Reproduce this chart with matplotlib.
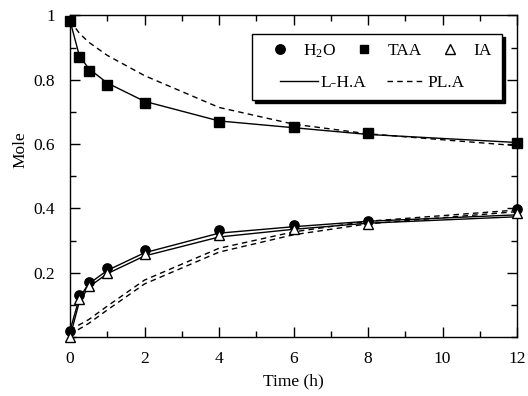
import matplotlib
matplotlib.use("Agg")
import matplotlib.pyplot as plt
from matplotlib.ticker import MultipleLocator, FixedLocator, FixedFormatter
from matplotlib.lines import Line2D
from matplotlib.patches import Rectangle
from matplotlib.transforms import offset_copy

plt.rcParams['font.family'] = ['Liberation Serif', 'DejaVu Serif']
plt.rcParams['mathtext.fontset'] = 'custom'
plt.rcParams['mathtext.rm'] = 'Liberation Serif'
plt.rcParams['mathtext.it'] = 'Liberation Serif:italic'

# Experimental data
t_exp = [0, 0.25, 0.5, 1, 2, 4, 6, 8, 12]
h2o_exp = [0.02, 0.13, 0.172, 0.216, 0.272, 0.332, 0.347, 0.362, 0.397]
taa_exp = [0.984, 0.87, 0.826, 0.783, 0.727, 0.668, 0.652, 0.636, 0.602]
ia_exp = [0.0, 0.118, 0.16, 0.2, 0.258, 0.318, 0.337, 0.35, 0.385]

# Model curves
t_mod = [0, 0.25, 0.5, 1, 2, 4, 6, 8, 12]
taa_lha = [0.984, 0.875, 0.835, 0.79, 0.733, 0.672, 0.651, 0.630, 0.605]
h2o_lha = [0.02, 0.122, 0.165, 0.207, 0.262, 0.323, 0.343, 0.360, 0.380]
ia_lha = [0.0, 0.11, 0.155, 0.197, 0.252, 0.311, 0.335, 0.354, 0.374]
taa_pla = [0.984, 0.945, 0.917, 0.876, 0.813, 0.714, 0.662, 0.632, 0.595]
h2o_pla = [0.02, 0.038, 0.054, 0.096, 0.177, 0.276, 0.327, 0.360, 0.395]
ia_pla = [0.005, 0.025, 0.042, 0.084, 0.165, 0.264, 0.318, 0.352, 0.390]

x_ticks = [0, 2, 4, 6, 8, 10, 12]
y_ticks = [0.2, 0.4, 0.6, 0.8, 1.0]
y_ticklabels = ['0.2', '0.4', '0.6', '0.8', '1']

fig = plt.figure(figsize=(5.28, 3.96), dpi=100)
ax = fig.add_axes([0.1326, 0.149, 0.8466, 0.8119])

lw = 1.0
dash = (4, 3)
ax.plot(t_mod, taa_lha, '-', color='black', lw=lw, zorder=2)
ax.plot(t_mod, h2o_lha, '-', color='black', lw=lw, zorder=2)
ax.plot(t_mod, ia_lha, '-', color='black', lw=lw, zorder=2)
ax.plot(t_mod, taa_pla, '--', color='black', lw=lw, dashes=dash, zorder=2)
ax.plot(t_mod, h2o_pla, '--', color='black', lw=lw, dashes=dash, zorder=2)
ax.plot(t_mod, ia_pla, '--', color='black', lw=lw, dashes=dash, zorder=2)

ax.plot(t_exp, h2o_exp, 'o', color='black', ms=6.7, ls='none', zorder=3, clip_on=False)
ax.plot(t_exp, taa_exp, 's', color='black', ms=6.7, ls='none', zorder=3, clip_on=False)
ax.plot(t_exp, ia_exp, '^', mfc='white', mec='black', mew=1.0, ms=6.5, ls='none',
        zorder=4, clip_on=False)

ax.set_xlim(0, 12)
ax.set_ylim(0, 1)
ax.xaxis.set_major_locator(FixedLocator(x_ticks))
ax.xaxis.set_minor_locator(MultipleLocator(1))
ax.yaxis.set_major_locator(FixedLocator(y_ticks))
ax.yaxis.set_major_formatter(FixedFormatter(y_ticklabels))
ax.yaxis.set_minor_locator(MultipleLocator(0.1))
ax.tick_params(which='both', direction='in', top=True, right=True, labelsize=12.5, width=1)
ax.tick_params(which='major', length=7)
ax.tick_params(which='minor', length=4)
ax.tick_params(axis='x', which='major', pad=10)
ax.tick_params(axis='y', which='major', pad=11)
for s in ax.spines.values():
    s.set_linewidth(1.0)

ax.set_xlabel('Time (h)', fontsize=12.5)
ax.set_ylabel('Mole', fontsize=12.5)
ax.xaxis.set_label_coords(0.5, -0.112)
ax.yaxis.set_label_coords(-0.092, 0.582)

# Legend frame with solid shadow
x0, y0, x1, y1 = 0.407, 0.737, 0.966, 0.942
shadow_tr = offset_copy(ax.transAxes, fig=fig, x=3, y=-2.5, units='dots')
ax.add_patch(Rectangle((x0, y0), x1 - x0, y1 - y0, transform=shadow_tr,
                       facecolor='black', edgecolor='black', lw=1.0, zorder=6,
                       clip_on=False))
ax.add_patch(Rectangle((x0, y0), x1 - x0, y1 - y0, transform=ax.transAxes,
                       facecolor='white', edgecolor='black', lw=1.0, zorder=7,
                       clip_on=False))

h_h2o = Line2D([], [], marker='o', color='black', ls='none', ms=6.8)
h_taa = Line2D([], [], marker='s', color='black', ls='none', ms=6.3)
h_ia = Line2D([], [], marker='^', mfc='white', mec='black', mew=1.0, ls='none', ms=6.8)
h_lha = Line2D([], [], color='black', lw=1.0)
h_pla = Line2D([], [], color='black', lw=1.0, ls='--', dashes=(4, 3))

leg1 = ax.legend([h_h2o, h_taa, h_ia], ['H$_2$O', 'TAA', 'IA'], ncol=3,
                 loc='center left', bbox_to_anchor=(0.450, 0.890), fontsize=12.5,
                 frameon=False, handlelength=1.0, handletextpad=0.82,
                 columnspacing=1.15, borderpad=0, borderaxespad=0)
leg1.set_zorder(8)
ax.add_artist(leg1)
leg2 = ax.legend([h_lha, h_pla], ['L-H.A', 'PL.A'], ncol=2,
                 loc='center left', bbox_to_anchor=(0.470, 0.790), fontsize=12.5,
                 frameon=False, handlelength=2.18, handletextpad=0.17,
                 columnspacing=1.15, borderpad=0, borderaxespad=0)
leg2.set_zorder(8)

fig.savefig('out.png', dpi=100)
